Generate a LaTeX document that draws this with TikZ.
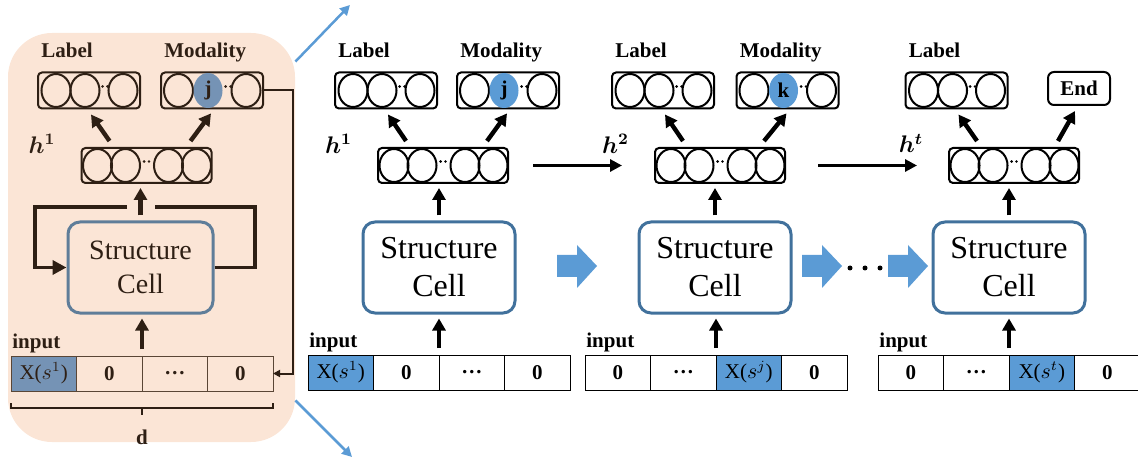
\documentclass[tikz,border=0pt]{standalone}
\usepackage{fontspec}
\setmainfont{Liberation Serif}
\usepackage{amsmath}
\usepackage{bm}
\usetikzlibrary{positioning,shapes.geometric,arrows.meta}

\definecolor{hl}{HTML}{5B9BD5}
\colorlet{ink}{black}
\definecolor{cellline}{HTML}{41719C}
\colorlet{slotline}{black}
\definecolor{peach}{HTML}{FBE5D6}
\definecolor{leftink}{HTML}{2E1F14}
\definecolor{lefthl}{HTML}{7593B5}
\definecolor{leftcell}{HTML}{5F7D99}
\definecolor{leftslot}{HTML}{5A4636}
% colours used inside the unrolled cell on the left
\newcommand{\leftcolours}{\colorlet{ink}{leftink}\colorlet{hl}{lefthl}\colorlet{cellline}{leftcell}\colorlet{slotline}{leftslot}}

\begin{document}
\begin{tikzpicture}[x=0.5pt,y=-0.5pt,
  every node/.style={text=ink},
  tag/.style={font=\fontsize{10.5}{12}\selectfont\bfseries,inner sep=0},
  vbox/.style={draw=ink,line width=1pt,rounded corners=2pt,minimum height=18pt,inner sep=0},
  unit/.style={ellipse,draw=ink,line width=1pt,minimum width=14.5pt,minimum height=16.5pt,inner sep=0},
  hot/.style={ellipse,fill=hl,minimum width=14.5pt,minimum height=17.5pt,inner sep=0,font=\fontsize{10.5}{12}\selectfont\bfseries},
  structcell/.style={draw=cellline,line width=1.5pt,rounded corners=6pt,minimum height=45.5pt,align=center,font=\fontsize{16}{19}\selectfont},
  slot/.style={draw=slotline,line width=0.5pt,minimum width=32.75pt,minimum height=17.5pt,inner sep=0,outer sep=0,font=\fontsize{10.5}{12}\selectfont},
  fat/.style={draw=ink,line width=2.2pt,-{Triangle[length=6pt,width=6.5pt]}},
  hop/.style={draw=ink,line width=1.6pt,-{Triangle[length=6pt,width=6pt]}},
  loopline/.style={draw=ink,line width=1.75pt},
  flow/.style={fill=hl},
  zoomline/.style={draw=hl,line width=1.25pt,-{Triangle[length=5pt,width=5pt]}}
]
\useasboundingbox (0,0) rectangle (1138,459);

\path (151.5,237.5) node (panel) [fill=peach,rounded corners=22pt,minimum width=143.5pt,minimum height=204.5pt,inner sep=0] {};

% output vectors and hidden state of each step
\foreach \n/\lx/\mx/\hx/\s/\k in {0/89/212/146.5/j/1,1/386/508/443/j/1,2/663/787.5/720/k/2,3/956.5/1079/1014/-/t} {
  \ifnum\n=0 \leftcolours\fi
  \path (\lx,90.5) node (lab\n) [vbox,minimum width=51pt] {};
  \foreach \i/\d in {a/-16.5,b/-2,c/17}
    \path ([xshift=\d pt]lab\n.center) node (lab\n-\i) [unit] {};
  \fill[ink] ([xshift=6.8pt,yshift=2pt]lab\n.center) circle (0.7pt) ([xshift=9.2pt,yshift=2pt]lab\n.center) circle (0.7pt);
  \path ([xshift=2pt,yshift=7pt]lab\n.north west) node (lab\n-t) [tag,anchor=base west] {Label};
  \ifnum\n<3
    \path (\mx,90.5) node (mod\n) [vbox,minimum width=51pt] {};
    \path ([xshift=-16.75pt]mod\n.center) node (mod\n-a) [unit] {};
    \path ([xshift=17pt]mod\n.center) node (mod\n-c) [unit] {};
    \fill[ink] ([xshift=6.8pt,yshift=2pt]mod\n.center) circle (0.7pt) ([xshift=9.2pt,yshift=2pt]mod\n.center) circle (0.7pt);
    \path ([xshift=-2pt]mod\n.center) node (mod\n-b) [hot] {\s};
    \path ([xshift=2pt,yshift=7pt]mod\n.north west) node (mod\n-t) [tag,anchor=base west] {Modality};
  \else
    \path (\mx,88.5) node (end\n) [vbox,tag,minimum width=31pt,minimum height=16.5pt,rounded corners=3pt] {End};
  \fi
  \path (\hx,165.5) node (h\n) [vbox,minimum width=65pt,minimum height=17.5pt] {};
  \foreach \i/\d in {a/-24.5,b/-10.5,c/11,d/25}
    \path ([xshift=\d pt]h\n.center) node (h\n-\i) [unit] {};
  \fill[ink] ([xshift=-1.2pt,yshift=2pt]h\n.center) circle (0.7pt) ([xshift=1.2pt,yshift=2pt]h\n.center) circle (0.7pt);
  \path ([xshift=-9pt,yshift=11pt]h\n.west) node (h\n-t) [anchor=east,font=\fontsize{12}{14}\selectfont] {$\bm{h}^{\bm{\k}}$};
  \draw[fat] ([xshift=-18.5pt,yshift=3pt]h\n.north) -- ([xshift=1pt,yshift=-2.5pt]lab\n.south);
  \ifnum\n<3
    \draw[fat] ([xshift=22pt,yshift=3pt]h\n.north) -- ([xshift=1.5pt,yshift=-2.5pt]mod\n-b.south);
  \else
    \draw[fat] ([xshift=22pt,yshift=3pt]h\n.north) -- ([xshift=-2pt,yshift=-2.5pt]end\n.south);
  \fi
}

% unrolled cell
\begin{scope}
\leftcolours
\path (140.5,267.5) node (cell0) [structcell,minimum width=72.5pt,font=\fontsize{14}{17}\selectfont] {Structure\\Cell};
\path (11,373.5) node (in0a) [slot,fill=hl,anchor=west] {X($s^{1}$)};
\node (in0b) [slot,right=0pt of in0a] {\textbf{0}};
\node (in0c) [slot,right=0pt of in0b] {\textbf{…}};
\node (in0d) [slot,right=0pt of in0c] {\textbf{0}};
\path ([xshift=0.5pt,yshift=1.5pt]in0a.north west) node (inp0) [tag,anchor=south west] {input};
\draw[fat,shorten >=2pt] ([yshift=2.5pt]cell0.north) -- (cell0.north |- h0.south);
\draw[fat,shorten >=2pt] ([yshift=3.5pt]in0b.north east) -- (in0b.north east |- cell0.south);
\coordinate (loopR) at (255,207);
\coordinate (loopL) at (35,207);
\coordinate (gapR) at (155,207);
\coordinate (gapL) at (127,207);
\draw[loopline] (cell0.east) -| (loopR) -- (gapR);
\draw[loopline,-{Triangle[length=7pt,width=7pt]}] (gapL) -- (loopL) |- (cell0.west);
\coordinate (back) at (293,90.5);
\draw[draw=ink,line width=1pt,-{Triangle[length=3.5pt,width=3.5pt]}] (mod0.east) -- (back) |- (in0d.east);
% width of the input
\draw[draw=ink,line width=1pt] ([yshift=-6pt]in0a.south west) -- ([yshift=-8.5pt]in0a.south west) -- ([yshift=-8.5pt]in0d.south east) -- ([yshift=-6pt]in0d.south east);
\draw[draw=ink,line width=1pt] ([yshift=-8.5pt]in0b.south east) -- ++(0,7);
\path (142,437) node (dimd) [tag] {d};
\end{scope}

\coordinate (zoomtop) at (350,5);
\coordinate (zoombot) at (352,457);
\draw[zoomline] ([yshift=-14.5pt]panel.north east) -- (zoomtop);
\draw[zoomline] ([yshift=21pt]panel.south east) -- (zoombot);

% cells over time
\foreach \n/\x in {1/439,2/715,3/1009}
  \path (\x,267.5) node (cell\n) [structcell,minimum width=76pt] {Structure\\Cell};

\path (308,372.5) node (in1a) [slot,fill=hl,anchor=west] {X($s^{1}$)};
\node (in1b) [slot,right=0pt of in1a] {\textbf{0}};
\node (in1c) [slot,right=0pt of in1b] {\textbf{…}};
\node (in1d) [slot,right=0pt of in1c] {\textbf{0}};

\path (585,372.5) node (in2a) [slot,anchor=west] {\textbf{0}};
\node (in2b) [slot,right=0pt of in2a] {\textbf{…}};
\node (in2c) [slot,fill=hl,right=0pt of in2b] {X($s^{j}$)};
\node (in2d) [slot,right=0pt of in2c] {\textbf{0}};

\path (878,372.5) node (in3a) [slot,anchor=west] {\textbf{0}};
\node (in3b) [slot,right=0pt of in3a] {\textbf{…}};
\node (in3c) [slot,fill=hl,right=0pt of in3b] {X($s^{t}$)};
\node (in3d) [slot,right=0pt of in3c] {\textbf{0}};

\foreach \n in {1,2,3} {
  \path ([xshift=0.5pt,yshift=1.5pt]in\n a.north west) node (inp\n) [tag,anchor=south west] {input};
  \draw[fat,shorten >=2pt] ([yshift=2.5pt]cell\n.north) -- (cell\n.north |- h\n.south);
  \draw[fat,shorten >=2pt] ([yshift=3.5pt]in\n b.north east) -- (in\n b.north east |- cell\n.south);
}

\draw[hop,shorten <=12pt,shorten >=16pt] (h1.east) -- (h2.west);
\draw[hop,shorten <=16pt,shorten >=15.5pt] (h2.east) -- (h3.west);

% state passed along
\foreach \x in {557,802,888}
  \fill[flow] (\x,255) -- ++(20,0) -- ++(0,-10) -- ++(20,21) -- ++(-20,22) -- ++(0,-11) -- ++(-20,0) -- cycle;
\foreach \x in {850,865,880}
  \fill (\x,268) circle (1.25pt);
\end{tikzpicture}
\end{document}
